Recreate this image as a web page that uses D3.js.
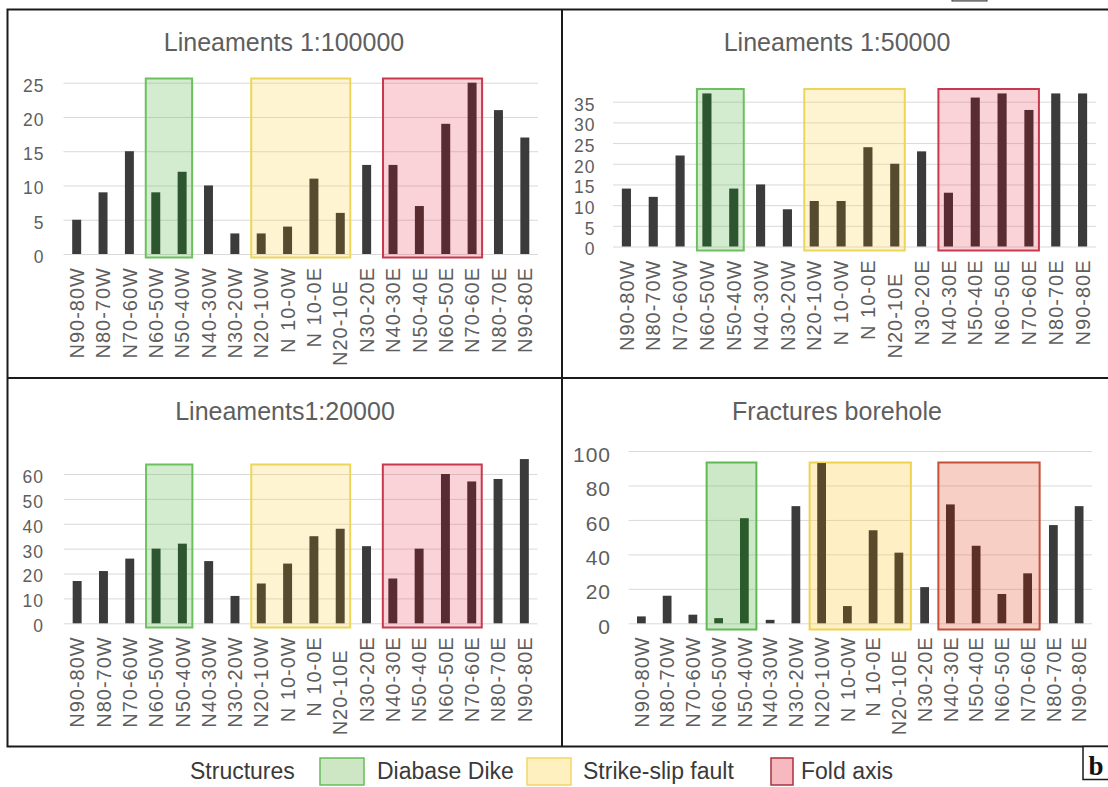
<!DOCTYPE html>
<html>
<head>
<meta charset="utf-8">
<script src="https://cdn.jsdelivr.net/npm/d3@7"></script>
<style>
  html, body { margin: 0; padding: 0; background: #fff; }
  svg { display: block; font-family: "Liberation Sans", Arial, sans-serif; }
  .xlab text { white-space: pre; }
</style>
</head>
<body>
<svg id="fig" width="1108" height="787"></svg>
<script>
// Orientation classes (strike sectors)
const categories = ["N90-80W","N80-70W","N70-60W","N60-50W","N50-40W","N40-30W","N30-20W",
  "N20-10W","N10-0W","N10-0E","N20-10E","N30-20E","N40-30E","N50-40E","N60-50E","N70-60E",
  "N80-70E","N90-80E"];
const tickLabels = ["N90-80W","N80-70W","N70-60W","N60-50W","N50-40W","N40-30W","N30-20W",
  "N20-10W","N 10-0W","N 10-0E","N20-10E  ","N30-20E","N40-30E","N50-40E","N60-50E","N70-60E",
  "N80-70E","N90-80E"];

// Counts per sector
const lineaments100k    = [5, 9, 15, 9, 12, 10, 3, 3, 4, 11, 6, 13, 13, 7, 19, 25, 21, 17];
const lineaments50k     = [14, 12, 22, 37, 14, 15, 9, 11, 11, 24, 20, 23, 13, 36, 37, 33, 37, 37];
const lineaments20k     = [17, 21, 26, 30, 32, 25, 11, 16, 24, 35, 38, 31, 18, 30, 60, 57, 58, 66];
const boreholeFractures = [4, 16, 5, 3, 61, 2, 68, 93, 10, 54, 41, 21, 69, 45, 17, 29, 57, 68];

const ticks100k     = [0, 5, 10, 15, 20, 25];
const ticks50k      = [0, 5, 10, 15, 20, 25, 30, 35];
const ticks20k      = [0, 10, 20, 30, 40, 50, 60];
const ticksBorehole = [0, 20, 40, 60, 80, 100];

const panelTitles = ["Lineaments 1:100000", "Lineaments 1:50000", "Lineaments1:20000", "Fractures borehole"];

// Structural groups and the sector ranges they cover
const legendTitle    = "Structures";
const structureNames = ["Diabase Dike", "Strike-slip fault", "Fold axis"];
const structureFirst = ["N60-50W", "N20-10W", "N40-30E"];
const structureLast  = ["N50-40W", "N20-10E", "N70-60E"];

// ---- layout & styling ----
const softPalette = {
  fill:   ["rgba(110,190,95,0.30)", "rgba(255,215,90,0.27)", "rgba(235,80,105,0.25)"],
  stroke: ["#6cc05e", "#ecd65a", "#c8384f"],
  bar:    ["#2d552f", "#574b2f", "#592c31"]
};
const warmPalette = {
  fill:   ["rgba(100,185,85,0.33)", "rgba(255,205,70,0.32)", "rgba(235,110,80,0.33)"],
  stroke: ["#5fba55", "#eed34e", "#c4503a"],
  bar:    ["#2b5a2c", "#5a4a2c", "#5c2f27"]
};

const panels = [
  { title: panelTitles[0], values: lineaments100k, ticks: ticks100k,
    x0: 63.5, x1: 538, yBase: 254, yTopTick: 82.7, titleX: 284, titleY: 51,
    tickPad: 19, tickFont: 17.5, boxTop: 78.5, boxBottom: 257.5, boxPad: 10, pal: softPalette },
  { title: panelTitles[1], values: lineaments50k, ticks: ticks50k,
    x0: 613, x1: 1096, yBase: 246.5, yTopTick: 101.7, titleX: 837, titleY: 51,
    tickPad: 17.5, tickFont: 17.5, boxTop: 89, boxBottom: 250.5, boxPad: 10, pal: softPalette },
  { title: panelTitles[2], values: lineaments20k, ticks: ticks20k,
    x0: 64, x1: 537.5, yBase: 623.3, yTopTick: 474, titleX: 285, titleY: 420,
    tickPad: 20, tickFont: 17.5, boxTop: 464.5, boxBottom: 627.5, boxPad: 10, pal: softPalette },
  { title: panelTitles[3], values: boreholeFractures, ticks: ticksBorehole,
    x0: 628.5, x1: 1092, yBase: 623.3, yTopTick: 451, titleX: 837, titleY: 419.5,
    tickPad: 17.5, tickFont: 21, boxTop: 462.5, boxBottom: 629.5, boxPad: 12, pal: warmPalette }
];

const svg = d3.select("#fig");
const baseBar = "#3b3b3b";
const textGrey = "#5e5e5e";

function groupOf(cat) {
  const i = categories.indexOf(cat);
  for (let g = 0; g < structureNames.length; g++) {
    const a = categories.indexOf(structureFirst[g]);
    const b = categories.indexOf(structureLast[g]);
    if (i >= a && i <= b) return g;
  }
  return -1;
}

panels.forEach(p => {
  const g = svg.append("g");
  const tickMax = p.ticks[p.ticks.length - 1];

  const x = d3.scaleBand().domain(categories).range([p.x0, p.x1])
    .paddingInner(0.66).paddingOuter(0.33);
  const y = d3.scaleLinear().domain([0, tickMax]).range([p.yBase, p.yTopTick]);

  // gridlines + value labels
  const yAxis = g.append("g")
    .attr("transform", `translate(${p.x0},0)`)
    .call(d3.axisLeft(y).tickValues(p.ticks).tickSize(-(p.x1 - p.x0)).tickPadding(p.tickPad));
  yAxis.select(".domain").remove();
  yAxis.selectAll(".tick line").attr("stroke", "#d9d9d9").attr("stroke-width", 1);
  yAxis.selectAll(".tick text")
    .attr("fill", textGrey).attr("font-size", p.tickFont)
    .attr("font-family", "Liberation Sans, Arial, sans-serif")
    .attr("letter-spacing", 1)
    .attr("dy", "0.48em");

  // structure boxes (background)
  structureNames.forEach((name, k) => {
    const xa = x(structureFirst[k]) + x.bandwidth() / 2 - p.boxPad;
    const xb = x(structureLast[k]) + x.bandwidth() / 2 + p.boxPad;
    g.append("rect")
      .attr("x", xa).attr("y", p.boxTop)
      .attr("width", xb - xa).attr("height", p.boxBottom - p.boxTop)
      .attr("fill", p.pal.fill[k])
      .attr("stroke", p.pal.stroke[k]).attr("stroke-width", 2);
  });

  // bars
  g.append("g").selectAll("rect")
    .data(categories.map((c, i) => ({ c, v: p.values[i] })))
    .join("rect")
    .attr("x", d => x(d.c))
    .attr("width", x.bandwidth())
    .attr("y", d => y(d.v))
    .attr("height", d => y(0) - y(d.v))
    .attr("fill", d => { const k = groupOf(d.c); return k < 0 ? baseBar : p.pal.bar[k]; });

  // category labels, rotated
  const xAxis = g.append("g")
    .attr("class", "xlab")
    .attr("transform", `translate(0,${p.yBase})`)
    .call(d3.axisBottom(x).tickSize(0).tickFormat((d, i) => tickLabels[i]));
  xAxis.select(".domain").remove();
  xAxis.selectAll(".tick text")
    .attr("transform", "rotate(-90)")
    .attr("x", -13).attr("y", 0).attr("dy", "0.36em")
    .attr("text-anchor", "end")
    .attr("letter-spacing", 1)
    .attr("fill", textGrey).attr("font-size", 20)
    .attr("font-family", "Liberation Sans, Arial, sans-serif");

  // title
  g.append("text")
    .attr("x", p.titleX).attr("y", p.titleY)
    .attr("text-anchor", "middle")
    .attr("fill", textGrey).attr("font-size", 25)
    .text(p.title);
});

// ---- panel frame ----
const frame = svg.append("g").attr("stroke", "#1a1a1a").attr("stroke-width", 2).attr("fill", "none");
frame.append("path").attr("d", "M1108,9.5 H7.5 V746.5 H1108");
frame.append("path").attr("d", "M562,9.5 V746.5");
frame.append("path").attr("d", "M7.5,378 H1108");
svg.append("rect").attr("x", 952).attr("y", -4).attr("width", 35).attr("height", 5)
  .attr("fill", "#bbb").attr("stroke", "#333").attr("stroke-width", 1);

// ---- legend ----
const legend = svg.append("g").attr("font-size", 23).attr("fill", "#3a3a3a");
legend.append("text").attr("x", 190).attr("y", 779).text(legendTitle);
const legendText = [377, 583, 801];
const legendSwatchX = [320, 527, 771];
const legendSwatchW = [44, 44, 22];
const legendFill = ["#cde6c3", "#fff0c0", "#f6b9c0"];
const legendStroke = ["#66bb5a", "#f0d666", "#a8323e"];
structureNames.forEach((name, k) => {
  legend.append("rect")
    .attr("x", legendSwatchX[k]).attr("y", 758)
    .attr("width", legendSwatchW[k]).attr("height", 27)
    .attr("fill", legendFill[k]).attr("stroke", legendStroke[k]).attr("stroke-width", 1.5);
  legend.append("text").attr("x", legendText[k]).attr("y", 779).text(name);
});

// ---- figure part letter ----
svg.append("rect").attr("x", 1083).attr("y", 746.5).attr("width", 30).attr("height", 33)
  .attr("fill", "#fff").attr("stroke", "#1a1a1a").attr("stroke-width", 1.5);
svg.append("text").attr("x", 1096).attr("y", 775).attr("text-anchor", "middle")
  .attr("font-family", "Liberation Serif, Times New Roman, serif")
  .attr("font-weight", "bold").attr("font-size", 27).attr("fill", "#111").text("b");
</script>
</body>
</html>
